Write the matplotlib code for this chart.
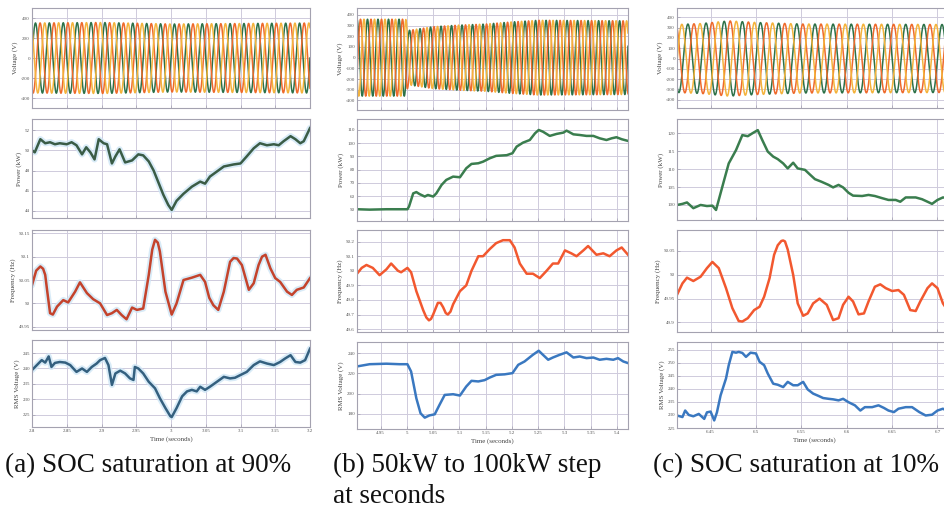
import numpy as np
import matplotlib.pyplot as plt
from matplotlib.ticker import FormatStrFormatter

plt.rcParams['font.family'] = ['Liberation Serif', 'DejaVu Serif']

# ---------------- data ----------------
# (a) SOC saturation at 90%
XLIM_A = (2.8, 3.2)
XT_A = [2.8, 2.85, 2.9, 2.95, 3.0, 3.05, 3.1, 3.15, 3.2]
VENV_A_T = [2.80, 2.90, 3.00, 3.10, 3.20]
VENV_A_V = [350, 355, 340, 345, 350]
PWR_A_T = [2.800, 2.804, 2.812, 2.819, 2.826, 2.833, 2.840, 2.850, 2.857, 2.864,
           2.872, 2.878, 2.884, 2.890, 2.896, 2.903, 2.908, 2.915, 2.920, 2.926,
           2.934, 2.944, 2.953, 2.960, 2.968, 2.975, 2.982, 2.989, 2.996, 3.001,
           3.008, 3.018, 3.030, 3.042, 3.049, 3.056, 3.066, 3.076, 3.090, 3.100,
           3.109, 3.119, 3.128, 3.138, 3.148, 3.155, 3.162, 3.172, 3.179, 3.186,
           3.191, 3.200]
PWR_A_V = [50.0, 49.8, 51.1, 50.7, 50.8, 50.6, 50.7, 50.6, 50.8, 50.5,
           49.6, 50.3, 49.8, 49.1, 51.1, 50.7, 50.6, 48.7, 49.4, 50.1,
           48.8, 49.0, 49.6, 49.5, 48.9, 48.0, 46.8, 45.6, 44.6, 44.1,
           45.0, 45.7, 46.4, 46.9, 46.7, 47.4, 47.9, 48.4, 48.6, 48.7,
           49.4, 50.2, 50.7, 50.5, 50.6, 50.5, 50.9, 51.4, 51.1, 50.7,
           50.9, 52.2]
FRQ_A_T = [2.800, 2.806, 2.812, 2.816, 2.819, 2.822, 2.826, 2.830, 2.836, 2.845,
           2.852, 2.862, 2.869, 2.879, 2.888, 2.898, 2.908, 2.915, 2.922, 2.929,
           2.936, 2.944, 2.951, 2.960, 2.968, 2.973, 2.977, 2.981, 2.984, 2.992,
           3.001, 3.008, 3.018, 3.030, 3.042, 3.049, 3.055, 3.061, 3.068, 3.076,
           3.085, 3.090, 3.095, 3.102, 3.112, 3.119, 3.126, 3.131, 3.136, 3.143,
           3.150, 3.157, 3.167, 3.174, 3.181, 3.191, 3.200]
FRQ_A_V = [50.039, 50.070, 50.079, 50.074, 50.061, 50.025, 49.979, 49.976, 49.993, 50.007,
           50.002, 50.025, 50.045, 50.022, 50.009, 50.000, 49.975, 49.979, 49.986, 49.975,
           49.966, 49.991, 49.986, 49.989, 50.061, 50.115, 50.136, 50.130, 50.111, 50.025,
           49.976, 50.000, 50.050, 50.055, 50.061, 50.046, 50.012, 49.996, 49.986, 50.025,
           50.089, 50.097, 50.096, 50.082, 50.029, 50.043, 50.082, 50.100, 50.104, 50.075,
           50.054, 50.046, 50.025, 50.018, 50.029, 50.034, 50.054]
RMS_A_T = [2.800, 2.807, 2.814, 2.819, 2.824, 2.828, 2.833, 2.840, 2.848, 2.855,
           2.864, 2.872, 2.879, 2.886, 2.893, 2.898, 2.905, 2.910, 2.915, 2.920,
           2.927, 2.934, 2.941, 2.946, 2.948, 2.953, 2.960, 2.968, 2.977, 2.984,
           2.992, 2.999, 3.001, 3.008, 3.016, 3.023, 3.030, 3.037, 3.042, 3.049,
           3.056, 3.066, 3.076, 3.085, 3.092, 3.100, 3.109, 3.119, 3.128, 3.138,
           3.148, 3.157, 3.164, 3.172, 3.179, 3.186, 3.193, 3.200]
RMS_A_V = [239.5, 241.1, 242.7, 241.9, 243.9, 240.5, 241.8, 242.1, 241.9, 241.1,
           238.9, 240.0, 238.9, 240.5, 241.6, 242.7, 243.4, 241.1, 234.7, 238.4,
           239.3, 238.4, 236.8, 236.3, 240.5, 240.0, 238.4, 235.7, 233.6, 230.4,
           227.2, 224.6, 224.3, 227.2, 231.0, 232.6, 233.1, 232.6, 234.1, 233.1,
           234.1, 235.7, 237.3, 236.8, 237.0, 237.9, 238.9, 241.1, 242.3, 241.6,
           241.1, 242.1, 243.2, 244.3, 242.1, 241.9, 242.7, 246.4]

# (b) 50kW to 100kW step
XLIM_B = (4.905, 5.421)
XT_B = [4.95, 5.0, 5.05, 5.1, 5.15, 5.2, 5.25, 5.3, 5.35, 5.4]
VENV_B_T = [4.905, 4.998, 5.003, 5.05, 5.10, 5.15, 5.20, 5.25, 5.421]
VENV_B_V = [360, 360, 255, 290, 305, 315, 335, 350, 345]
PWR_B_T = [4.905, 4.929, 4.961, 5.001, 5.004, 5.012, 5.018, 5.024, 5.034, 5.040,
           5.050, 5.056, 5.066, 5.075, 5.088, 5.101, 5.113, 5.123, 5.136, 5.145,
           5.158, 5.170, 5.190, 5.201, 5.209, 5.221, 5.234, 5.244, 5.251, 5.259,
           5.272, 5.285, 5.298, 5.304, 5.317, 5.329, 5.342, 5.355, 5.367, 5.380,
           5.390, 5.399, 5.409, 5.421]
PWR_B_V = [50.0, 49.7, 50.0, 50.0, 52.0, 62.0, 63.0, 61.5, 59.6, 60.8,
           59.6, 62.0, 68.4, 72.2, 74.7, 74.2, 81.0, 84.3, 84.8, 86.0,
           88.6, 90.4, 90.9, 92.4, 97.4, 100.4, 102.4, 107.5, 110.0, 108.7,
           105.5, 107.0, 108.0, 109.5, 106.7, 106.2, 105.5, 105.5, 103.7, 102.4,
           103.7, 104.5, 103.0, 101.7]
FRQ_B_T = [4.905, 4.914, 4.923, 4.935, 4.948, 4.961, 4.970, 4.983, 4.989, 5.001,
           5.008, 5.018, 5.031, 5.037, 5.042, 5.046, 5.050, 5.059, 5.064, 5.069,
           5.074, 5.078, 5.083, 5.088, 5.101, 5.113, 5.123, 5.136, 5.145, 5.158,
           5.170, 5.183, 5.196, 5.205, 5.215, 5.228, 5.240, 5.253, 5.266, 5.278,
           5.288, 5.301, 5.313, 5.323, 5.336, 5.345, 5.361, 5.374, 5.386, 5.399,
           5.409, 5.421]
FRQ_B_V = [49.98, 50.02, 50.04, 50.02, 49.97, 50.01, 50.05, 50.00, 49.99, 50.02,
           49.99, 49.86, 49.73, 49.68, 49.66, 49.67, 49.70, 49.78, 49.78, 49.75,
           49.71, 49.70, 49.72, 49.77, 49.86, 49.90, 50.00, 50.10, 50.10, 50.15,
           50.19, 50.21, 50.21, 50.16, 50.05, 49.98, 49.98, 49.95, 50.00, 50.05,
           50.05, 50.14, 50.12, 50.10, 50.14, 50.17, 50.11, 50.12, 50.10, 50.14,
           50.16, 50.11]
RMS_B_T = [4.905, 4.929, 4.961, 4.986, 5.001, 5.008, 5.018, 5.026, 5.034, 5.043,
           5.053, 5.062, 5.072, 5.088, 5.101, 5.113, 5.123, 5.136, 5.148, 5.158,
           5.170, 5.186, 5.201, 5.212, 5.224, 5.240, 5.251, 5.259, 5.269, 5.278,
           5.291, 5.304, 5.317, 5.329, 5.342, 5.355, 5.367, 5.380, 5.393, 5.402,
           5.412, 5.421]
RMS_B_V = [226.8, 229.0, 229.5, 229.0, 229.0, 221.8, 195.4, 180.6, 176.3, 178.5,
           179.6, 188.8, 198.7, 199.4, 198.1, 207.0, 212.6, 212.0, 213.3, 215.9,
           218.5, 219.0, 220.2, 228.4, 231.7, 238.3, 242.3, 238.3, 233.4, 235.6,
           238.3, 240.7, 235.6, 236.6, 235.0, 235.6, 233.4, 234.3, 233.4, 235.0,
           231.7, 230.1]

# (c) SOC saturation at 10%
XLIM_C = (6.413, 6.716)
XT_C = [6.45, 6.5, 6.55, 6.6, 6.65, 6.7]
VENV_C_T = [6.413, 6.44, 6.47, 6.50, 6.55, 6.716]
VENV_C_V = [330, 340, 365, 350, 335, 330]
PWR_C_T = [6.413, 6.419, 6.424, 6.431, 6.439, 6.446, 6.452, 6.456, 6.459, 6.465,
           6.470, 6.478, 6.485, 6.491, 6.496, 6.502, 6.507, 6.513, 6.519, 6.524,
           6.530, 6.535, 6.541, 6.546, 6.554, 6.559, 6.565, 6.572, 6.580, 6.585,
           6.591, 6.596, 6.602, 6.607, 6.617, 6.624, 6.631, 6.639, 6.646, 6.654,
           6.659, 6.665, 6.676, 6.683, 6.689, 6.694, 6.700, 6.706, 6.712]
PWR_C_V = [100.0, 100.3, 100.7, 99.1, 100.0, 99.7, 99.8, 98.6, 101.4, 107.0,
           111.6, 115.3, 119.5, 119.2, 120.0, 120.9, 118.1, 114.9, 113.5, 112.8,
           111.6, 110.2, 111.8, 110.2, 109.8, 108.6, 107.2, 106.5, 105.6, 104.9,
           105.6, 104.9, 103.4, 102.6, 102.5, 102.8, 102.5, 101.9, 101.4, 101.4,
           100.9, 102.1, 102.1, 101.6, 100.9, 100.3, 101.4, 102.1, 101.9]
FRQ_C_T = [6.413, 6.419, 6.424, 6.431, 6.439, 6.446, 6.452, 6.459, 6.467, 6.474,
           6.481, 6.485, 6.491, 6.498, 6.504, 6.509, 6.515, 6.520, 6.524, 6.528,
           6.530, 6.532, 6.535, 6.541, 6.546, 6.552, 6.557, 6.563, 6.570, 6.578,
           6.585, 6.591, 6.596, 6.602, 6.607, 6.613, 6.619, 6.624, 6.631, 6.637,
           6.643, 6.650, 6.657, 6.663, 6.670, 6.676, 6.681, 6.689, 6.694, 6.700,
           6.706, 6.712]
FRQ_C_V = [49.958, 49.982, 49.994, 49.987, 49.996, 50.014, 50.027, 50.014, 49.972, 49.930,
           49.903, 49.902, 49.909, 49.926, 49.933, 49.954, 49.993, 50.042, 50.062, 50.071,
           50.072, 50.070, 50.053, 50.000, 49.940, 49.914, 49.919, 49.940, 49.950, 49.937,
           49.905, 49.909, 49.937, 49.954, 49.944, 49.917, 49.919, 49.944, 49.975, 49.980,
           49.972, 49.966, 49.968, 49.958, 49.926, 49.924, 49.944, 49.972, 49.982, 49.972,
           49.940, 49.923]
RMS_C_T = [6.413, 6.419, 6.422, 6.426, 6.431, 6.437, 6.443, 6.446, 6.450, 6.454,
           6.457, 6.461, 6.467, 6.470, 6.474, 6.478, 6.481, 6.485, 6.489, 6.494,
           6.500, 6.504, 6.509, 6.513, 6.519, 6.524, 6.530, 6.535, 6.541, 6.546,
           6.552, 6.557, 6.563, 6.569, 6.574, 6.580, 6.585, 6.591, 6.596, 6.602,
           6.609, 6.615, 6.620, 6.628, 6.635, 6.641, 6.646, 6.652, 6.657, 6.665,
           6.672, 6.680, 6.687, 6.694, 6.700, 6.706, 6.712]
RMS_C_V = [229.8, 229.2, 231.7, 230.0, 229.5, 230.4, 228.5, 231.0, 231.3, 227.9,
           231.0, 237.5, 244.0, 249.1, 254.2, 253.9, 254.2, 253.8, 252.3, 253.9,
           253.6, 250.4, 249.1, 245.9, 242.0, 241.6, 240.7, 242.7, 241.4, 241.4,
           242.7, 239.8, 238.2, 237.3, 236.5, 236.2, 236.0, 235.6, 236.2, 234.9,
           233.7, 231.7, 233.0, 233.0, 233.7, 232.7, 231.7, 231.1, 232.4, 233.0,
           233.0, 231.1, 229.8, 230.1, 231.7, 232.4, 231.3]

GRID_FREQ = 50.0   # Hz, supply frequency of the phase voltages
PHASE_COLORS = ['#2d7148', '#ee6a2c', '#f4b33c']

CAPTIONS = ['(a) SOC saturation at 90%', '(b) 50kW to 100kW step\nat seconds',
            '(c) SOC saturation at 10%']

# ---------------- layout (pixels of a 944x507 canvas) ----------------
W, H = 944, 507
COLS = [(32, 310), (357, 628), (677, 952)]
ROWS = [
    [(8, 108), (119, 218), (230, 330), (340, 427)],
    [(8, 110), (119, 221), (230, 332), (342, 429)],
    [(8, 108), (119, 220), (230, 332), (342, 428)],
]

fig = plt.figure(figsize=(W / 100, H / 100), dpi=100)


def make_ax(ci, ri):
    l, r = COLS[ci]
    t, b = ROWS[ci][ri]
    return fig.add_axes([l / W, 1 - b / H, (r - l) / W, (b - t) / H])


def style(ax, xlim, xt, ylim, yt, ylabel, bottom):
    ax.set_xlim(*xlim)
    ax.set_ylim(*ylim)
    ax.set_xticks(xt)
    ax.set_yticks(yt)
    ax.xaxis.set_major_formatter(FormatStrFormatter('%g'))
    ax.yaxis.set_major_formatter(FormatStrFormatter('%g'))
    ax.grid(True, color='#cfcbdc', lw=0.7)
    ax.set_axisbelow(True)
    for s in ax.spines.values():
        s.set_color('#a4a2b0')
        s.set_linewidth(0.8)
    ax.tick_params(direction='in', length=2, width=0.5, colors='#a4a2b0',
                   labelsize=3.6, labelcolor='#555555', pad=1.5)
    ax.set_ylabel(ylabel, fontsize=5, color='#444444', labelpad=2)
    if bottom:
        ax.set_xlabel('Time (seconds)', fontsize=5, color='#444444', labelpad=2)
    else:
        ax.tick_params(labelbottom=False)


cases = [
    dict(xlim=XLIM_A, xt=XT_A, env=(VENV_A_T, VENV_A_V),
         pwr=(PWR_A_T, PWR_A_V), frq=(FRQ_A_T, FRQ_A_V), rms=(RMS_A_T, RMS_A_V),
         vlim=(-500, 500), vt=[-400, -200, 0, 200, 400],
         plim=(43.3, 53.1), pt=[44, 46, 48, 50, 52],
         flim=(49.943, 50.157), ft=[49.95, 50, 50.05, 50.1, 50.15],
         rlim=(221.1, 249.2), rt=[225, 230, 235, 240, 245],
         cp='#3a5c46', cf='#c4432c', cr='#34607f', halo=True),
    dict(xlim=XLIM_B, xt=XT_B, env=(VENV_B_T, VENV_B_V),
         pwr=(PWR_B_T, PWR_B_V), frq=(FRQ_B_T, FRQ_B_V), rms=(RMS_B_T, RMS_B_V),
         vlim=(-490, 465), vt=[-400, -300, -200, -100, 0, 100, 200, 300, 400],
         plim=(41.1, 118.3), pt=[50, 60, 70, 80, 90, 100, 110],
         flim=(49.58, 50.28), ft=[49.6, 49.7, 49.8, 49.9, 50, 50.1, 50.2],
         rlim=(165.1, 250.9), rt=[180, 200, 220, 240],
         cp='#3a7d4e', cf='#f2582f', cr='#3a78c0', halo=False),
    dict(xlim=XLIM_C, xt=XT_C, env=(VENV_C_T, VENV_C_V),
         pwr=(PWR_C_T, PWR_C_V), frq=(FRQ_C_T, FRQ_C_V), rms=(RMS_C_T, RMS_C_V),
         vlim=(-480, 490), vt=[-400, -300, -200, -100, 0, 100, 200, 300, 400],
         plim=(95.8, 124), pt=[100, 105, 110, 115, 120],
         flim=(49.88, 50.094), ft=[49.9, 49.95, 50, 50.05],
         rlim=(225, 258), rt=[225, 230, 235, 240, 245, 250, 255],
         cp='#3a7d4e', cf='#f2582f', cr='#3a78c0', halo=False),
]

for ci, c in enumerate(cases):
    # phase voltages: 50 Hz carrier with the envelope
    t = np.linspace(c['xlim'][0], c['xlim'][1], 3000)
    amp = np.interp(t, *c['env'])
    ax = make_ax(ci, 0)
    for k, col in enumerate(PHASE_COLORS):
        ax.plot(t, amp * np.sin(2 * np.pi * GRID_FREQ * t - k * 2 * np.pi / 3),
                color=col, lw=1.1)
    style(ax, c['xlim'], c['xt'], c['vlim'], c['vt'], 'Voltage (V)', False)

    for ri, key, lim, ticks, col, lab in [
        (1, 'pwr', c['plim'], c['pt'], c['cp'], 'Power (kW)'),
        (2, 'frq', c['flim'], c['ft'], c['cf'], 'Frequency (Hz)'),
        (3, 'rms', c['rlim'], c['rt'], c['cr'], 'RMS Voltage (V)'),
    ]:
        ax = make_ax(ci, ri)
        xs, ys = c[key]
        if c['halo']:
            ax.plot(xs, ys, color='#cfe6f6', lw=4.5, alpha=0.8, solid_capstyle='round')
        ax.plot(xs, ys, color=col, lw=1.8, solid_joinstyle='round')
        style(ax, c['xlim'], c['xt'], lim, ticks, lab, ri == 3)

# captions
for x, text in zip([5, 333, 653], CAPTIONS):
    fig.text(x / W, 1 - 453 / H, text, fontsize=19.5, ha='left', va='top',
             color='#111111', linespacing=1.3)

fig.savefig('out.png', dpi=100)
